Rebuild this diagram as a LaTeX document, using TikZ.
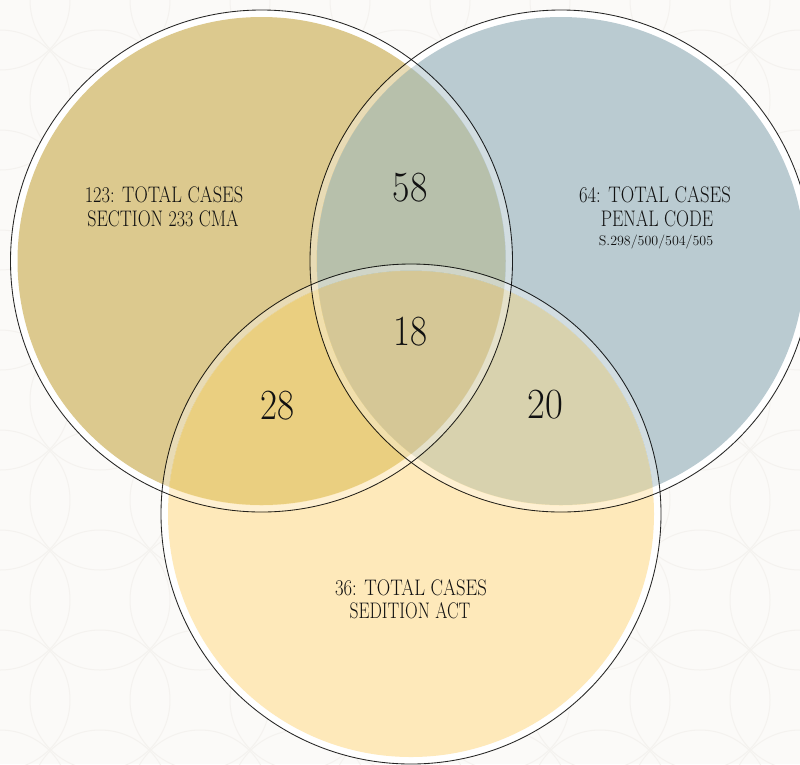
\documentclass[tikz,border=0pt]{standalone}
\usepackage{graphicx}
\definecolor{bg}{HTML}{FBFAF8}
\definecolor{patt}{HTML}{F4F2EF}
\definecolor{cL}{HTML}{DCC98E}
\definecolor{cR}{HTML}{BACBD1}
\definecolor{cB}{HTML}{FEE9BA}
\definecolor{cLR}{HTML}{B7C0AB}
\definecolor{cLB}{HTML}{EACF80}
\definecolor{cRB}{HTML}{D8D2AE}
\definecolor{cLRB}{HTML}{D5C796}
\definecolor{ink}{HTML}{111111}
\newcommand\sqz[2][0.8]{\scalebox{#1}[1]{#2}}
\newcommand\Lcirc{(261.5,261) circle[radius=244pt]}
\newcommand\Rcirc{(561,261) circle[radius=244pt]}
\newcommand\Bcirc{(411,514) circle[radius=243pt]}
\begin{document}
\begin{tikzpicture}[x=1pt,y=-1pt,
  lbl/.style={text=ink, inner sep=0pt, anchor=base},
  big/.style={lbl, font=\fontsize{22.5}{24}\selectfont},
  small/.style={lbl, font=\fontsize{14}{16}\selectfont},
  num/.style={lbl, font=\fontsize{43}{46}\selectfont},
  ringline/.style={white, opacity=0.35, line width=6pt},
  outline/.style={draw=black, line width=0.85pt, opacity=0.85}]
\useasboundingbox (0,0) rectangle (800,764);
\fill[bg] (0,0) rectangle (800,764);
\begin{scope}
  \clip (0,0) rectangle (800,764);
  \foreach \i in {0,...,8} \foreach \j in {0,...,8} {
    \draw[patt, line width=1pt] (\i*100, \j*100) circle[radius=70pt];
  }
\end{scope}
% circle centres
\coordinate (cl) at (261.5,261);
\coordinate (cr) at (561,261);
\coordinate (cb) at (411,514);
% fills
\begin{scope}
  \clip (0,0) rectangle (800,764);
  \fill[white] (cl) circle[radius=250pt];
  \fill[white] (cr) circle[radius=250pt];
  \fill[white] (cb) circle[radius=249pt];
  \fill[cL] \Lcirc;
  \fill[cR] \Rcirc;
  \fill[cB] \Bcirc;
  \begin{scope}\clip \Lcirc; \fill[cLR] \Rcirc; \fill[cLB] \Bcirc; \end{scope}
  \begin{scope}\clip \Rcirc; \fill[cRB] \Bcirc; \end{scope}
  \begin{scope}\clip \Lcirc; \clip \Rcirc; \fill[cLRB] \Bcirc; \end{scope}
  % white rings
  \draw[ringline] (cl) circle[radius=247.5pt];
  \draw[ringline] (cr) circle[radius=247.5pt];
  \draw[ringline] (cb) circle[radius=246.5pt];
  % outlines
  \draw[outline] (cl) circle[radius=251pt];
  \draw[outline] (cr) circle[radius=251pt];
  \draw[outline] (cb) circle[radius=250pt];
\end{scope}
% labels
\node[big] (l1) at (164,202) {\sqz[0.82]{123: TOTAL CASES}};
\node[big] (l2) at (163,226.5) {\sqz{SECTION 233 CMA}};
\node[big] (r1) at (655,202) {\sqz[0.83]{64: TOTAL CASES}};
\node[big] (r2) at (657,226) {\sqz[0.8]{PENAL CODE}};
\node[small] (r3) at (656,245) {\sqz[1.0]{S.298/500/504/505}};
\node[big] (b1) at (411,595) {\sqz[0.83]{36: TOTAL CASES}};
\node[big] (b2) at (410,618.5) {\sqz[0.78]{SEDITION ACT}};
% numbers
\node[num] (n58) at (410,201) {\sqz[0.88]{58}};
\node[num] (n18) at (410,345) {\sqz[0.86]{18}};
\node[num] (n28) at (277,419) {\sqz[0.86]{28}};
\node[num] (n20) at (545,418) {\sqz[0.9]{20}};
\end{tikzpicture}
\end{document}
